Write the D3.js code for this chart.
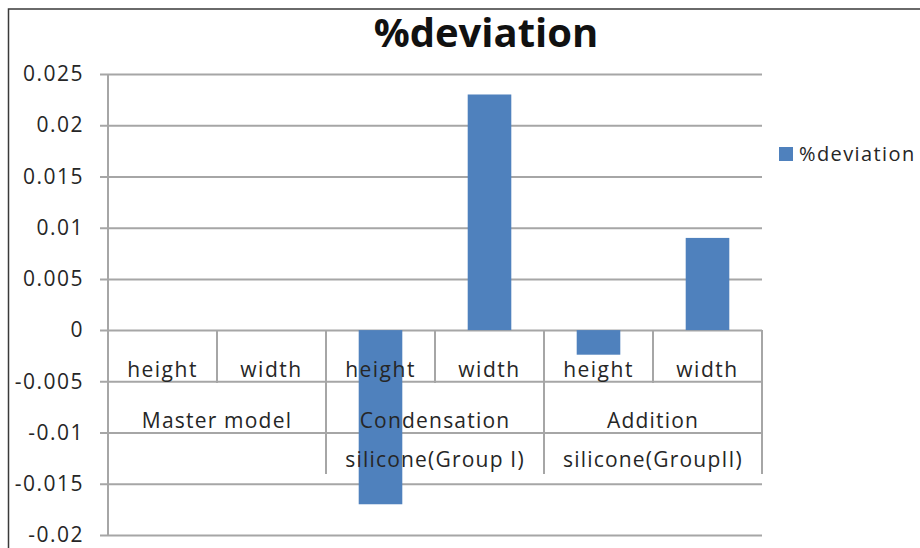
<!DOCTYPE html>
<html>
<head>
<meta charset="utf-8">
<script src="https://cdn.jsdelivr.net/npm/d3@7"></script>
<style>
  body { margin: 0; background: #fff; }
  text { font-family: "Open Sans", sans-serif; fill: #262626; }
</style>
</head>
<body>
<div id="chart"></div>
<script>
// data
const measures = ["height", "width", "height", "width", "height", "width"];
const groupLabels = [["Master model"], ["Condensation", "silicone(Group I)"], ["Addition", "silicone(GroupII)"]];
const deviation = [0, 0, -0.017, 0.023, -0.0024, 0.009];
const yTicks = [-0.02, -0.015, -0.01, -0.005, 0, 0.005, 0.01, 0.015, 0.02, 0.025];
const seriesName = "%deviation";

const width = 920, height = 548;
const plot = {left: 108, right: 762, top: 74, bottom: 535};

const svg = d3.select("#chart").append("svg")
    .attr("width", width)
    .attr("height", height);

// outer frame of the chart
svg.append("rect")
    .attr("x", 8.5).attr("y", 9)
    .attr("width", 940).attr("height", 560)
    .attr("fill", "none")
    .attr("stroke", "#3a3a3a")
    .attr("stroke-width", 1.5);

// title
svg.append("text")
    .attr("x", 486).attr("y", 47)
    .attr("text-anchor", "middle")
    .style("font-size", "40px")
    .style("font-weight", "bold")
    .style("fill", "#111")
    .text(seriesName);

var y = d3.scaleLinear()
    .domain([-0.02, 0.025])
    .range([plot.bottom, plot.top]);

var idx = d3.range(deviation.length);

// cells for category labels
var cell = d3.scaleBand()
    .domain(idx)
    .range([plot.left, plot.right]);

// bars
var x = d3.scaleBand()
    .domain(idx)
    .range([plot.left, plot.right])
    .paddingInner(0.6)
    .paddingOuter(0.3);

// gridlines + y axis
var yAxis = d3.axisLeft(y)
    .tickValues(yTicks)
    .tickSize(plot.right - plot.left + 8)
    .tickFormat(d => String(+d.toFixed(3)));

var gy = svg.append("g")
    .attr("transform", "translate(" + plot.right + ",0)")
    .call(yAxis);
gy.select(".domain").remove();
gy.selectAll(".tick line")
    .attr("stroke", "#a6a6a6")
    .attr("stroke-width", 2);
gy.selectAll(".tick text")
    .attr("x", -(plot.right - plot.left) - 24)
    .style("font-size", "21px")
    .style("letter-spacing", "1.5px")
    .style("font-family", "Open Sans, sans-serif")
    .attr("fill", "#262626");

// y axis line
svg.append("line")
    .attr("x1", plot.left).attr("x2", plot.left)
    .attr("y1", plot.top).attr("y2", plot.bottom)
    .attr("stroke", "#a6a6a6")
    .attr("stroke-width", 2);

svg.selectAll(".bar")
    .data(deviation)
    .enter().append("rect")
    .attr("class", "bar")
    .attr("x", (d, i) => x(i))
    .attr("width", x.bandwidth())
    .attr("y", d => y(Math.max(0, d)))
    .attr("height", d => Math.abs(y(d) - y(0)))
    .attr("fill", "#4f81bd");

// multi-level category axis
var zeroY = y(0);
var row1H = 53, row2H = 144;

var seps = svg.append("g").attr("stroke", "#a6a6a6").attr("stroke-width", 2);
idx.concat([idx.length]).forEach(function(i) {
    var xx = i < idx.length ? cell(i) : plot.right;
    seps.append("line")
        .attr("x1", xx).attr("x2", xx)
        .attr("y1", zeroY)
        .attr("y2", zeroY + (i % 2 === 0 ? row2H : row1H));
});

svg.selectAll(".measure")
    .data(measures)
    .enter().append("text")
    .attr("class", "measure")
    .attr("x", (d, i) => cell(i) + cell.bandwidth() / 2)
    .attr("y", zeroY + 47)
    .attr("text-anchor", "middle")
    .style("font-size", "21px")
    .style("letter-spacing", "1.5px")
    .text(d => d);

groupLabels.forEach(function(lines, g) {
    var cx = cell(g * 2) + cell.bandwidth();
    lines.forEach(function(t, k) {
        svg.append("text")
            .attr("x", cx)
            .attr("y", zeroY + 98 + k * 39)
            .attr("text-anchor", "middle")
            .style("font-size", "21px")
            .style("letter-spacing", "1.2px")
            .text(t);
    });
});

// legend
svg.append("rect")
    .attr("x", 779).attr("y", 147)
    .attr("width", 14).attr("height", 14)
    .attr("fill", "#4f81bd");
svg.append("text")
    .attr("x", 799).attr("y", 161)
    .style("font-size", "20px")
    .style("letter-spacing", "1.4px")
    .text(seriesName);
</script>
</body>
</html>
